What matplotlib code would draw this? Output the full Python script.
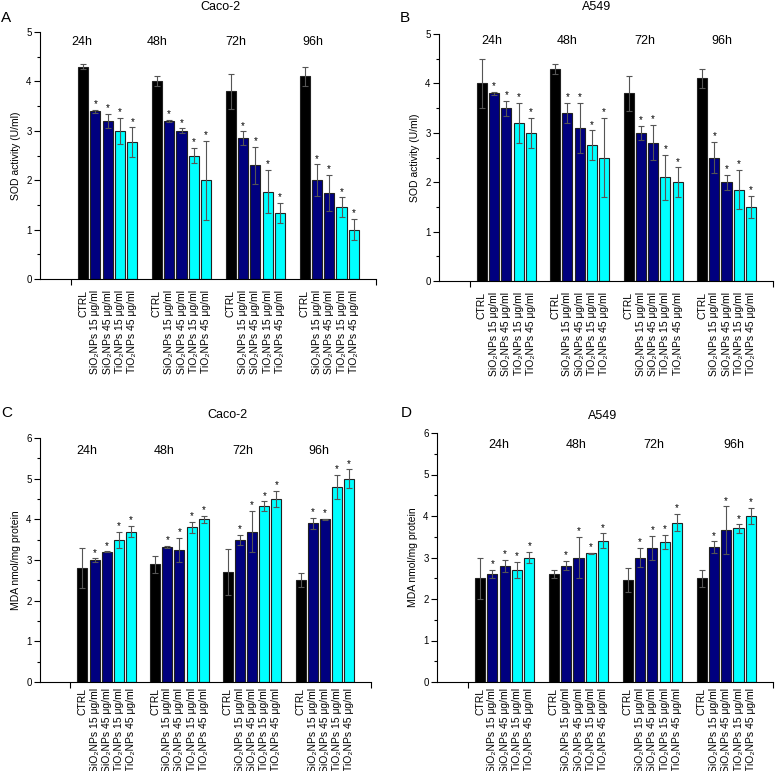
import matplotlib.pyplot as plt
import numpy as np
from matplotlib.ticker import MultipleLocator, FixedLocator

plt.rcParams['font.family'] = ['Liberation Sans', 'DejaVu Sans']

times = ['24h', '48h', '72h', '96h']
treatments = ['CTRL', 'SiO₂NPs 15 μg/ml', 'SiO₂NPs 45 μg/ml',
              'TiO₂NPs 15 μg/ml', 'TiO₂NPs 45 μg/ml']
bar_colors = ['black', '#00007f', '#00007f', '#00ffff', '#00ffff']
signif = [False, True, True, True, True]

# SOD activity, Caco-2 (rows = time points)
sod_caco2 = [[4.30, 3.40, 3.20, 3.00, 2.77],
             [4.00, 3.20, 3.00, 2.50, 2.00],
             [3.80, 2.85, 2.30, 1.77, 1.34],
             [4.10, 2.00, 1.74, 1.45, 1.00]]
sod_caco2_err = [[0.05, 0.03, 0.15, 0.26, 0.30],
                 [0.10, 0.02, 0.05, 0.15, 0.80],
                 [0.35, 0.14, 0.37, 0.44, 0.20],
                 [0.20, 0.32, 0.36, 0.20, 0.22]]

# SOD activity, A549
sod_a549 = [[4.00, 3.80, 3.50, 3.20, 3.00],
            [4.30, 3.40, 3.10, 2.75, 2.50],
            [3.80, 3.00, 2.80, 2.10, 2.00],
            [4.10, 2.50, 2.00, 1.85, 1.50]]
sod_a549_err = [[0.50, 0.03, 0.15, 0.40, 0.30],
                [0.10, 0.21, 0.50, 0.30, 0.80],
                [0.35, 0.14, 0.36, 0.46, 0.30],
                [0.20, 0.31, 0.15, 0.40, 0.22]]

# MDA, Caco-2
mda_caco2 = [[2.80, 3.00, 3.20, 3.50, 3.70],
             [2.90, 3.32, 3.24, 3.80, 4.00],
             [2.70, 3.50, 3.70, 4.32, 4.50],
             [2.50, 3.90, 4.00, 4.80, 5.00]]
mda_caco2_err = [[0.50, 0.04, 0.01, 0.20, 0.13],
                 [0.21, 0.03, 0.30, 0.14, 0.08],
                 [0.56, 0.12, 0.50, 0.12, 0.20],
                 [0.17, 0.13, 0.02, 0.30, 0.23]]

# MDA, A549
mda_a549 = [[2.50, 2.60, 2.80, 2.70, 3.00],
            [2.60, 2.80, 3.00, 3.10, 3.40],
            [2.46, 3.00, 3.23, 3.37, 3.84],
            [2.50, 3.25, 3.66, 3.70, 4.00]]
mda_a549_err = [[0.50, 0.10, 0.15, 0.20, 0.13],
                [0.10, 0.11, 0.50, 0.01, 0.18],
                [0.29, 0.24, 0.29, 0.17, 0.21],
                [0.20, 0.14, 0.57, 0.10, 0.20]]

fig = plt.figure(figsize=(7.78, 7.71), dpi=100)
W, H = 778, 771

panels = [
    # letter, title, ylabel, values, errors, ymax, axes box px (l, r, top, bottom),
    # title pos, letter pos, time label x (data), time label y (data), label pad
    ('A', 'Caco-2', 'SOD activity (U/ml)', sod_caco2, sod_caco2_err, 5,
     (40, 376, 32, 279), (220, 7), (6, 18), [-0.1, 6.0, 12.4, 18.7], 4.8, 8),
    ('B', 'A549', 'SOD activity (U/ml)', sod_a549, sod_a549_err, 5,
     (439, 773, 34, 281), (597, 7), (405, 18), [0.8, 7.0, 13.3, 19.6], 4.85, 8),
    ('C', 'Caco-2', 'MDA nmol/mg protein', mda_caco2, mda_caco2_err, 6,
     (40, 371, 438, 682), (227, 415), (7, 413), [0.4, 6.7, 13.2, 19.5], 5.68, 4),
    ('D', 'A549', 'MDA nmol/mg protein', mda_a549, mda_a549_err, 6,
     (437, 773, 433, 682), (603, 416), (406, 413), [1.5, 7.8, 14.1, 20.6], 5.7, 4),
]

xmin, xmax = -3.5, 23.8

for letter, title, ylabel, vals, errs, ymax, box, tpos, lpos, tx, ty, pad in panels:
    l, r, t, b = box
    ax = fig.add_axes((l / W, 1 - b / H, (r - l) / W, (b - t) / H))
    ticks = []
    for g in range(len(times)):
        xs = g * 6 + np.arange(len(treatments))
        ticks.extend(xs)
        ax.bar(xs, vals[g], width=0.82, color=bar_colors,
               edgecolor='#222222', linewidth=0.8, zorder=2)
        ax.errorbar(xs, vals[g], yerr=errs[g], fmt='none', ecolor='#555555',
                    elinewidth=0.8, capsize=2, capthick=0.8, zorder=3)
        for x, v, e, s in zip(xs, vals[g], errs[g], signif):
            if s:
                ax.annotate('*', (x, v + e), xytext=(0, 0.5),
                            textcoords='offset points', ha='center',
                            va='bottom', fontsize=7)
        ax.text(tx[g], ty, times[g], ha='center', va='center', fontsize=9)

    ax.set_xlim(xmin, xmax)
    ax.set_ylim(0, ymax)
    ax.set_xticks(ticks)
    ax.set_xticklabels(treatments * len(times), rotation=90, fontsize=7.5,
                       va='top')
    ax.tick_params(axis='x', which='major', length=0, pad=pad)
    ax.xaxis.set_minor_locator(FixedLocator([-1, xmax]))
    ax.tick_params(axis='x', which='minor', length=4, width=0.8)
    ax.yaxis.set_major_locator(MultipleLocator(1))
    ax.yaxis.set_minor_locator(MultipleLocator(0.5))
    ax.tick_params(axis='y', which='major', length=4, width=0.8,
                   labelsize=7, pad=2)
    ax.tick_params(axis='y', which='minor', length=2, width=0.8)
    ax.spines['top'].set_visible(False)
    ax.spines['right'].set_visible(False)
    ax.spines['left'].set_linewidth(0.8)
    ax.spines['bottom'].set_linewidth(0.8)
    ax.set_ylabel(ylabel, fontsize=7.5, labelpad=4)

    fig.text(tpos[0] / W, 1 - tpos[1] / H, title, ha='center', va='center',
             fontsize=9)
    fig.text(lpos[0] / W, 1 - lpos[1] / H, letter, ha='center', va='center',
             fontsize=11)

fig.savefig('out.png', dpi=100)
